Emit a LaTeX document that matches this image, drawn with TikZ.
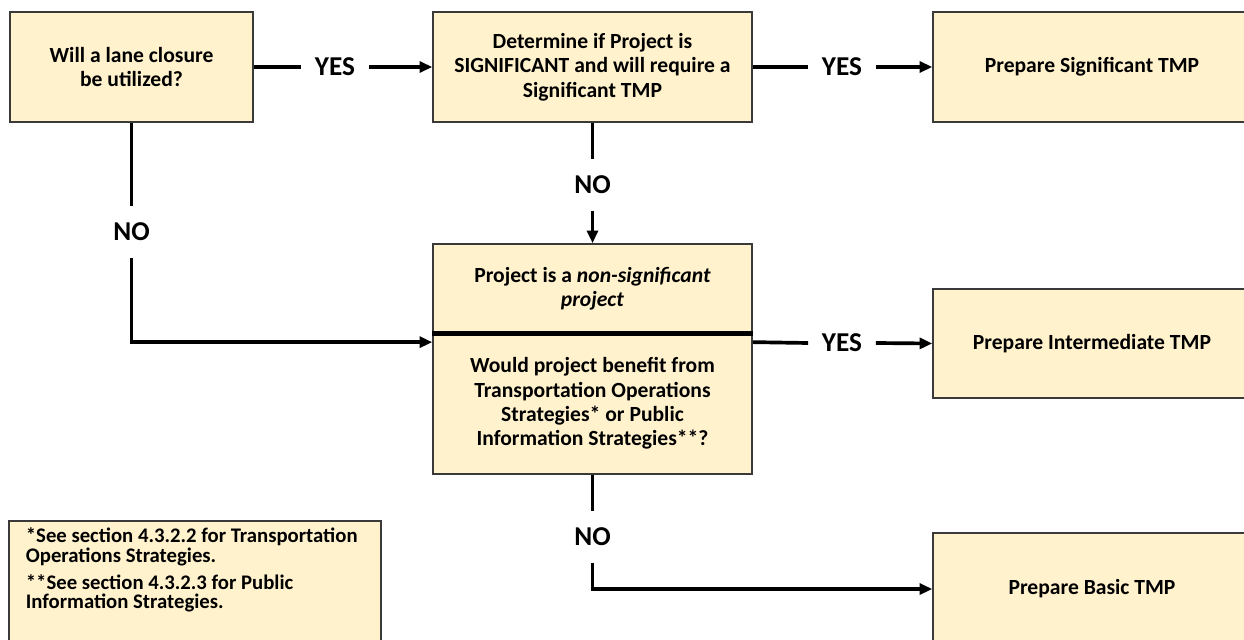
\documentclass[tikz,border=0pt]{standalone}
\usepackage{fontspec}
\setmainfont{Carlito}
\usetikzlibrary{arrows.meta}
\definecolor{tmpfill}{HTML}{FFF2CC}
\definecolor{tmpedge}{HTML}{3A3A3A}

\begin{document}
\begin{tikzpicture}[x=0.02cm,y=-0.02cm,
    tmpbox/.style={draw=tmpedge, line width=1pt, fill=tmpfill, align=center, inner sep=0pt,
        font=\bfseries\fontsize{12.3}{13.9}\selectfont},
    answer/.style={inner xsep=0.27cm, inner ysep=0.33cm, font=\bfseries\fontsize{15.5}{18}\selectfont},
    flow/.style={line width=2.1pt},
    flowto/.style={flow, -{Triangle[length=0.25cm,width=0.22cm]}}]
\useasboundingbox (0,0) rectangle (1244,639);

% boxes
\node [tmpbox, minimum width=4.86cm, minimum height=2.2cm] (closure) at (131.5,67) {Will a lane closure\\be utilized?};
\node [tmpbox, minimum width=6.38cm, minimum height=2.2cm] (determine) at (592.5,67) {Determine if Project is\\SIGNIFICANT and will require a\\Significant TMP};
\node [tmpbox, minimum width=6.36cm, minimum height=2.2cm] (significant) at (1092,67) {Prepare Significant TMP};
\node [tmpbox, minimum width=6.38cm, minimum height=1.78cm] (nonsig) at (592.5,288.5) {Project is a \textit{non-significant}\\\textit{project}};
\node [tmpbox, minimum width=6.38cm, minimum height=2.82cm] (quest) at (592.5,403.5) {Would project benefit from\\Transportation Operations\\Strategies* or Public\\Information Strategies**?};
\node [tmpbox, minimum width=6.36cm, minimum height=2.18cm] (interm) at (1092,343.5) {Prepare Intermediate TMP};
\node [tmpbox, minimum width=6.36cm, minimum height=2.24cm] (basic) at (1092,589) {Prepare Basic TMP};
\node [tmpbox, anchor=north west, minimum width=7.44cm, inner xsep=0.34cm, inner ysep=0.14cm] (notes) at (8,520)
    {\parbox[t][2.6cm][t]{6.76cm}{\raggedright\fontsize{11.8}{11}\selectfont
    *See section 4.3.2.2 for Transportation\\Operations Strategies.\\[0.16cm]
    **See section 4.3.2.3 for Public\\Information Strategies.}};

\draw [line width=0.1cm] (nonsig.south west) -- (nonsig.south east);

% answers
\node [answer] (yes1) at (335,67) {YES};
\node [answer] (yes2) at (842,67) {YES};
\node [answer] (yes3) at (842,343) {YES};
\node [answer] (noa) at (131.5,232) {NO};
\node [answer] (nob) at (592.5,185) {NO};
\node [answer] (noc) at (592.5,537) {NO};

% connectors
\draw [flow] (closure.east) -- (yes1.west);
\draw [flowto] (yes1.east) -- (determine.west);
\draw [flow] (determine.east) -- (yes2.west);
\draw [flowto] (yes2.east) -- (significant.west);
\draw [flow] (determine.south) -- (nob.north);
\draw [flowto] (nob.south) -- (nonsig.north);
\draw [flow] (closure.south) -- (noa.north);
\draw [flowto] (noa.south) |- ([yshift=-0.2cm]quest.north west);
\draw [flow] ([yshift=-0.2cm]quest.north east) -- (yes3.west);
\draw [flowto] (yes3.east) -- (interm.west);
\draw [flow] (quest.south) -- (noc.north);
\draw [flowto] (noc.south) |- (basic.west);

\end{tikzpicture}
\end{document}
